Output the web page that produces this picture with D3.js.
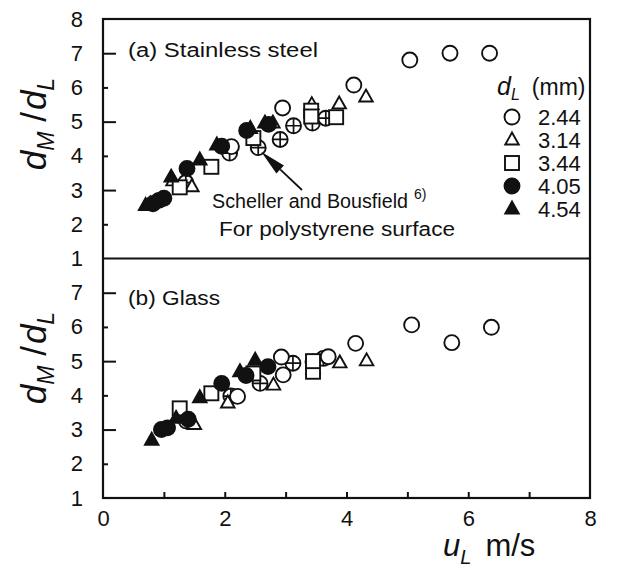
<!DOCTYPE html>
<html>
<head>
<meta charset="utf-8">
<script src="https://cdn.jsdelivr.net/npm/d3@7"></script>
<style>
  html, body { margin: 0; padding: 0; background: #fff; }
  svg { display: block; }
  text { font-family: "Liberation Sans", Arial, Helvetica, sans-serif; fill: #111; }
</style>
</head>
<body>
<svg id="chart" width="626" height="574"></svg>
<script>
// Droplet diameter series (mm) and marker kinds
const seriesNames = ["2.44", "3.14", "3.44", "4.05", "4.54"];
const seriesShapes = ["circle", "triangle", "square", "dot", "filledTriangle"];

// (a) Stainless steel: [u_L (m/s), d_M/d_L]
const steel244 = [[2.11, 4.27], [2.95, 5.40], [4.12, 6.07], [5.04, 6.80], [5.70, 7.00], [6.35, 7.00]];
const steel314 = [[1.15, 3.27], [1.46, 3.10], [2.79, 4.96], [3.43, 5.50], [3.88, 5.52], [4.32, 5.72]];
const steel344 = [[1.26, 3.08], [1.78, 3.68], [2.47, 4.52], [3.42, 5.32], [3.42, 5.15], [3.83, 5.13]];
const steel405 = [[0.82, 2.60], [0.92, 2.70], [1.00, 2.76], [1.38, 3.63], [1.95, 4.28], [2.36, 4.74], [2.72, 4.92]];
const steel454 = [[0.70, 2.55], [0.78, 2.60], [1.12, 3.38], [1.59, 3.88], [1.87, 4.32], [2.42, 4.80], [2.66, 4.96]];
const steelScheller = [[1.36, 3.22], [2.08, 4.08], [2.55, 4.24], [2.91, 4.48], [3.13, 4.88], [3.44, 4.96], [3.66, 5.10]];

// (b) Glass
const glass244 = [[2.21, 3.97], [2.93, 5.12], [2.96, 4.60], [3.70, 5.13], [4.15, 5.52], [5.07, 6.06], [5.73, 5.54], [6.38, 5.99]];
const glass314 = [[1.50, 3.15], [2.05, 3.78], [2.80, 4.30], [3.45, 4.78], [3.89, 4.95], [4.33, 5.01]];
const glass344 = [[1.26, 3.62], [1.78, 4.06], [2.47, 4.64], [3.45, 4.69], [3.45, 5.00]];
const glass405 = [[0.96, 3.00], [1.06, 3.05], [1.40, 3.30], [1.95, 4.35], [2.35, 4.58], [2.71, 4.84]];
const glass454 = [[0.80, 2.69], [1.20, 3.33], [1.59, 3.93], [2.25, 4.69], [2.50, 5.03]];
const glassScheller = [[1.37, 3.25], [2.10, 3.98], [2.58, 4.35], [3.12, 4.94], [3.45, 4.98], [3.62, 5.08]];

// Axis ticks
const xTickValues = [0, 1, 2, 3, 4, 5, 6, 7, 8];
const xTickLabels = ["0", "", "2", "", "4", "", "6", "", "8"];
const yTopTicks = [1, 2, 3, 4, 5, 6, 7, 8];
const yBottomTicks = [1, 2, 3, 4, 5, 6, 7];

const svg = d3.select("#chart");
const plotLeft = 103, plotRight = 590, plotTop = 19, plotMid = 258.5, plotBottom = 498;

const x = d3.scaleLinear().domain([0, 8]).range([plotLeft, plotRight]);
const yTop = d3.scaleLinear().domain([1, 8]).range([plotMid, plotTop]);
const yBot = d3.scaleLinear().domain([1, 8]).range([plotBottom, plotMid]);

const ink = "#111";
const R = 7.5;

function drawMarker(g, shape, cx, cy) {
  if (shape === "circle" || shape === "dot" || shape === "plus") {
    g.append("circle").attr("cx", cx).attr("cy", cy).attr("r", R)
      .attr("fill", shape === "dot" ? ink : "#fff")
      .attr("stroke", ink).attr("stroke-width", 1.9);
    if (shape === "plus") {
      g.append("path")
        .attr("d", `M${cx - R},${cy}H${cx + R}M${cx},${cy - R}V${cy + R}`)
        .attr("stroke", ink).attr("stroke-width", 1.7);
    }
  } else if (shape === "triangle" || shape === "filledTriangle") {
    const h = 12, w = 13.5;
    g.append("path")
      .attr("d", `M${cx},${cy - h * 0.62}L${cx + w / 2},${cy + h * 0.38}L${cx - w / 2},${cy + h * 0.38}Z`)
      .attr("fill", shape === "filledTriangle" ? ink : "#fff")
      .attr("stroke", ink).attr("stroke-width", 1.9).attr("stroke-linejoin", "miter");
  } else if (shape === "square") {
    const s = 14;
    g.append("rect").attr("x", cx - s / 2).attr("y", cy - s / 2).attr("width", s).attr("height", s)
      .attr("fill", "#fff").attr("stroke", ink).attr("stroke-width", 1.9);
  }
}

function drawPanel(y, seriesList, scheller) {
  const g = svg.append("g");
  // Scheller & Bousfield first, then own series on top
  scheller.forEach(d => drawMarker(g, "plus", x(d[0]), y(d[1])));
  seriesList.forEach((data, i) => {
    data.forEach(d => drawMarker(g, seriesShapes[i], x(d[0]), y(d[1])));
  });
}

drawPanel(yTop, [steel244, steel314, steel344, steel405, steel454], steelScheller);
drawPanel(yBot, [glass244, glass314, glass344, glass405, glass454], glassScheller);

// Frames
svg.append("rect").attr("x", plotLeft).attr("y", plotTop)
  .attr("width", plotRight - plotLeft).attr("height", plotBottom - plotTop)
  .attr("fill", "none").attr("stroke", ink).attr("stroke-width", 2.2);
svg.append("line").attr("x1", plotLeft).attr("x2", plotRight).attr("y1", plotMid).attr("y2", plotMid)
  .attr("stroke", ink).attr("stroke-width", 2.2);

// Y axes (inward ticks: long at odd values, short at even values)
function yAxis(scale, ticks) {
  const g = svg.append("g").attr("transform", `translate(${plotLeft},0)`)
    .call(d3.axisLeft(scale).tickValues(ticks).tickSize(0).tickPadding(20).tickFormat(d3.format("d")));
  g.select(".domain").remove();
  g.selectAll(".tick text").attr("font-size", 22).attr("fill", ink)
    .style("font-family", "'Liberation Sans', Arial, sans-serif");
  g.selectAll(".tick").filter(d => d !== 8 && d !== 1).append("line")
    .attr("x1", 0).attr("x2", d => d % 2 === 1 ? 13 : 5)
    .attr("stroke", ink).attr("stroke-width", 2);
}
yAxis(yTop, yTopTicks);
yAxis(yBot, yBottomTicks);

// X axis
const xg = svg.append("g").attr("transform", `translate(0,${plotBottom})`)
  .call(d3.axisBottom(x).tickValues(xTickValues).tickSize(0).tickPadding(12)
    .tickFormat((d, i) => xTickLabels[i]));
xg.select(".domain").remove();
xg.selectAll(".tick text").attr("font-size", 22).attr("fill", ink)
  .style("font-family", "'Liberation Sans', Arial, sans-serif");
xg.selectAll(".tick").filter(d => d > 0 && d < 8).append("line")
  .attr("y1", 0).attr("y2", -6).attr("stroke", ink).attr("stroke-width", 2);

// Axis titles
function yTitle(cy) {
  const t = svg.append("text").attr("transform", `translate(46,${cy}) rotate(-90)`)
    .attr("text-anchor", "middle").attr("font-size", 35);
  t.append("tspan").attr("font-style", "italic").text("d");
  t.append("tspan").attr("font-size", 23).attr("font-style", "italic").attr("dy", 8).text("M");
  t.append("tspan").attr("dy", -8).text(" /");
  t.append("tspan").attr("font-style", "italic").attr("dx", 2).text("d");
  t.append("tspan").attr("font-size", 23).attr("font-style", "italic").attr("dy", 8).text("L");
}
yTitle(124);
yTitle(358);

const xt = svg.append("text").attr("x", 443).attr("y", 556).attr("font-size", 31);
xt.append("tspan").attr("font-style", "italic").text("u");
xt.append("tspan").attr("font-size", 20).attr("font-style", "italic").attr("dy", 8).text("L");
xt.append("tspan").attr("dy", -8).attr("dx", 14).text("m/s");

// Panel labels
svg.append("text").attr("x", 128).attr("y", 57).attr("font-size", 20)
  .attr("textLength", 190).attr("lengthAdjust", "spacingAndGlyphs").text("(a) Stainless steel");
svg.append("text").attr("x", 128).attr("y", 305).attr("font-size", 20)
  .attr("textLength", 92).attr("lengthAdjust", "spacingAndGlyphs").text("(b) Glass");

// Legend
const lg = svg.append("g");
const hdr = lg.append("text").attr("x", 497).attr("y", 95).attr("font-size", 23);
hdr.append("tspan").attr("font-style", "italic").attr("font-size", 25).text("d");
hdr.append("tspan").attr("font-style", "italic").attr("font-size", 16).attr("dy", 5).text("L");
hdr.append("tspan").attr("dy", -5).attr("dx", 12).text("(mm)");
seriesNames.forEach((name, i) => {
  const cy = 117 + i * 23;
  drawMarker(lg, seriesShapes[i], 512, cy);
  lg.append("text").attr("x", 538).attr("y", cy + 8).attr("font-size", 22).text(name);
});

// Scheller & Bousfield annotation with arrow
const tipX = x(steelScheller[2][0]) + 3, tipY = yTop(steelScheller[2][1]) + 4;
const tailX = 302, tailY = 190;
const ang = Math.atan2(tipY - tailY, tipX - tailX);
const headLen = 26, headW = 5.5;
const bx = tipX - headLen * Math.cos(ang), by = tipY - headLen * Math.sin(ang);
const px = -Math.sin(ang) * headW, py = Math.cos(ang) * headW;
svg.append("line").attr("x1", tailX).attr("y1", tailY).attr("x2", bx).attr("y2", by)
  .attr("stroke", ink).attr("stroke-width", 1.8);
svg.append("path")
  .attr("d", `M${tipX},${tipY}L${bx + px},${by + py}L${bx - px},${by - py}Z`)
  .attr("fill", ink);

svg.append("text").attr("x", 212).attr("y", 208).attr("font-size", 20)
  .attr("textLength", 196).attr("lengthAdjust", "spacingAndGlyphs").text("Scheller and Bousfield");
svg.append("text").attr("x", 414).attr("y", 199).attr("font-size", 14).text("6)");
svg.append("text").attr("x", 219).attr("y", 236).attr("font-size", 20)
  .attr("textLength", 236).attr("lengthAdjust", "spacingAndGlyphs").text("For polystyrene surface");
</script>
</body>
</html>
